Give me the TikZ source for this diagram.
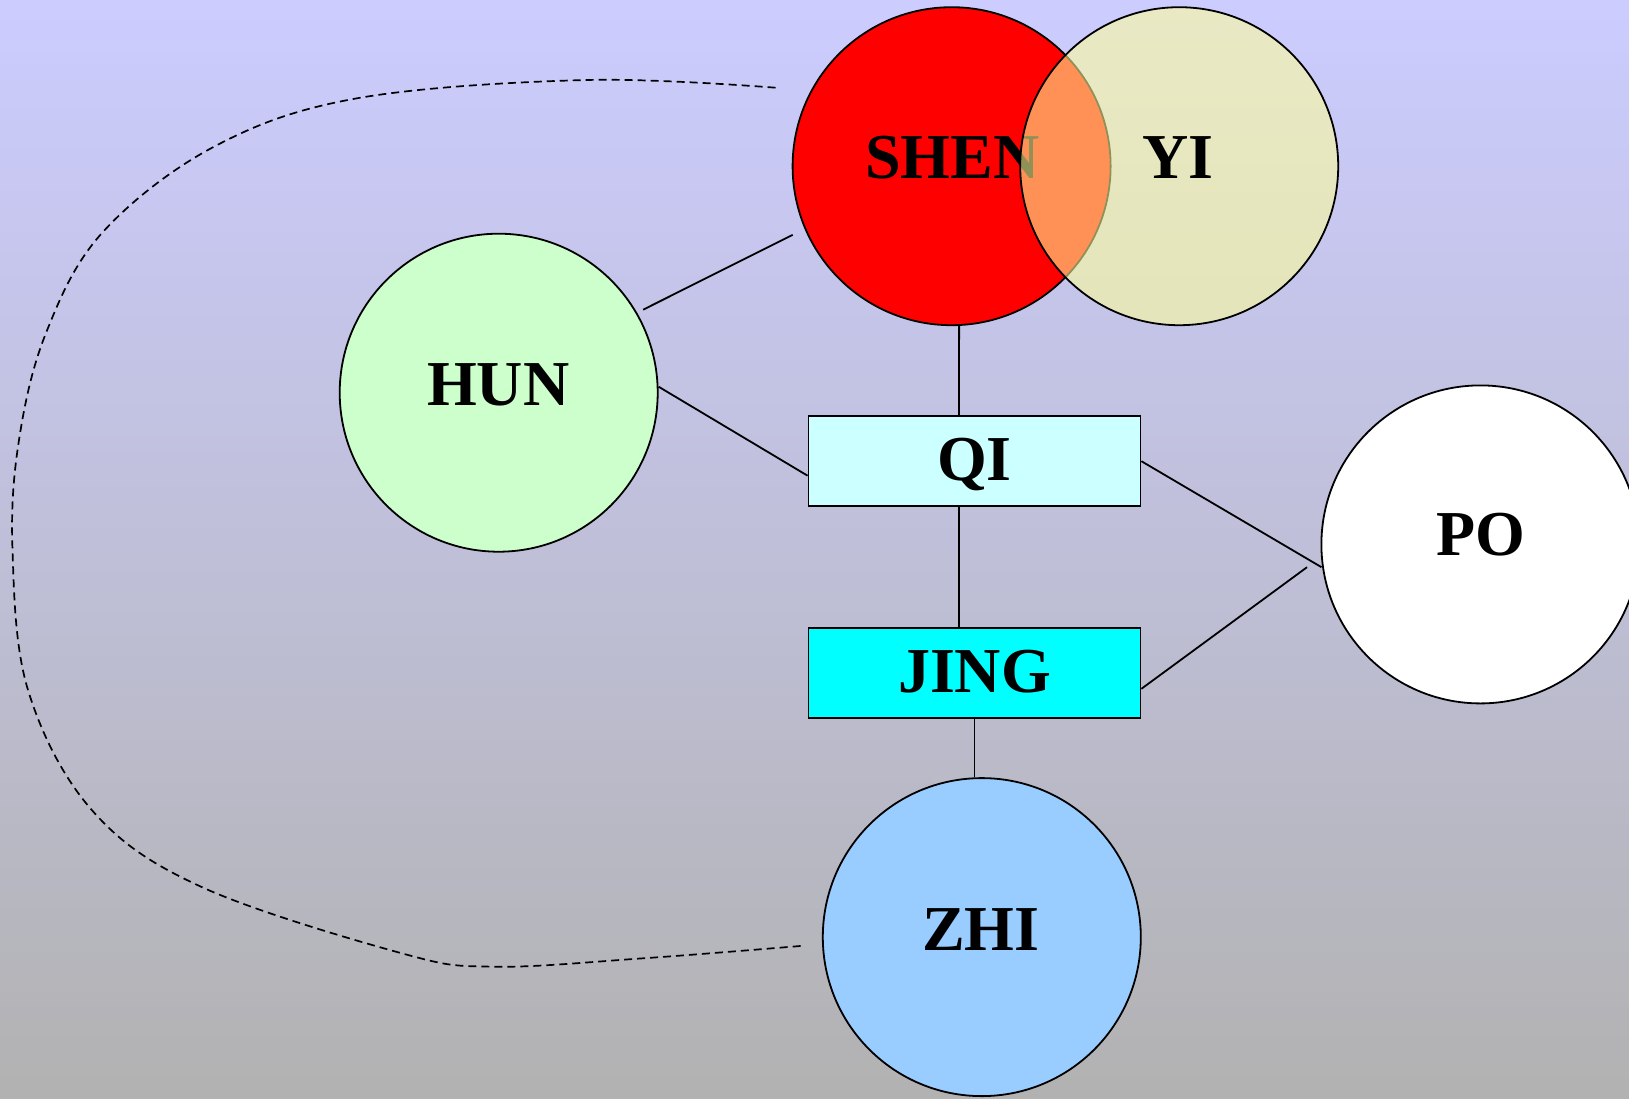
\documentclass[tikz,border=0pt]{standalone}
\usepackage{fontspec}
\setmainfont{Liberation Serif}
\usetikzlibrary{calc}
\definecolor{bgtop}{RGB}{204,204,255}
\definecolor{bgbot}{RGB}{178,178,178}
\definecolor{shenred}{RGB}{255,0,0}
\definecolor{yiyellow}{RGB}{255,255,153}
\definecolor{hungreen}{RGB}{204,255,204}
\definecolor{qicyan}{RGB}{204,255,255}
\definecolor{jingcyan}{RGB}{0,255,255}
\definecolor{zhiblue}{RGB}{153,204,255}
\begin{document}
\begin{tikzpicture}[x=1pt,y=-1pt,
  circ/.style={circle, draw=black, line width=1.8pt, minimum size=318pt, inner sep=0pt},
  boxnode/.style={rectangle, draw=black, line width=1.8pt, minimum width=332pt, minimum height=90pt, inner sep=0pt},
  lbl/.style={anchor=base, font=\fontsize{64}{70}\selectfont\bfseries, inner sep=0pt},
  conn/.style={line width=1.8pt},
  dashconn/.style={line width=1.7pt, dash pattern=on 8pt off 5pt}]
\useasboundingbox (0,0) rectangle (1629,1098);
\clip (0,0) rectangle (1629,1098);
\shade[top color=bgtop, bottom color=bgbot] (0,0) rectangle (1629,1098);

% nodes (shapes)
\node[circ, fill=shenred] (shen) at (951.6,166.2) {};
\node[lbl] (shentxt) at (952.2,178.7) {SHEN};
\node[circ, fill=yiyellow, fill opacity=0.57] (yi) at (1179.2,166.2) {};
\node[lbl] (yitxt) at (1177.6,178.7) {YI};
\node[circ, fill=hungreen] (hun) at (498.7,392.7) {};
\node[lbl] (huntxt) at (498.2,405) {HUN};
\node[circ, fill=white] (po) at (1480.4,544.4) {};
\node[lbl] (potxt) at (1481,555.5) {PO};
\node[circ, fill=zhiblue] (zhi) at (981.8,937.1) {};
\node[lbl] (zhitxt) at (980.7,950.6) {ZHI};
\node[boxnode, fill=qicyan] (qi) at (974.5,461.2) {};
\node[lbl] (qitxt) at (974.5,480) {QI};
\node[boxnode, fill=jingcyan] (jing) at (974.5,673) {};
\node[lbl] (jingtxt) at (974.5,692) {JING};

% connectors
\draw[conn] ($(shen.center)+(-158.9,68.6)$) -- ($(hun.center)+(144.4,-83)$);
\draw[conn] ($(shen.south)+(7.5,0)$) -- ($(qi.north)+(-15.5,0)$);
\draw[conn] ($(hun.east)+(0,-6)$) -- ($(qi.west)+(0,14.5)$);
\draw[conn] (qi.east) -- ($(po.west)+(1,22.8)$);
\draw[conn] ($(jing.east)+(0,15.8)$) -- ($(po.center)+(-173.4,22.8)$);
\draw[conn] ($(qi.south)+(-15.5,0)$) -- ($(jing.north)+(-15.5,0)$);
\draw[conn] (jing.south) -- (jing.south |- zhi.north);

% dashed loop
\coordinate (dstart) at (775.5,87.7);
\coordinate (dend) at (803.7,945.7);
\draw[dashconn] plot[smooth, tension=0.6] coordinates {(dstart) (586.7,80) (357,98.3) (214,146.7) (102,233) (46,333) (19,440) (12.5,550) (28,690) (91.8,810) (201,886.7) (401.8,953.3) (493.7,966.7) (643,958.3) (dend)};
\end{tikzpicture}
\end{document}
